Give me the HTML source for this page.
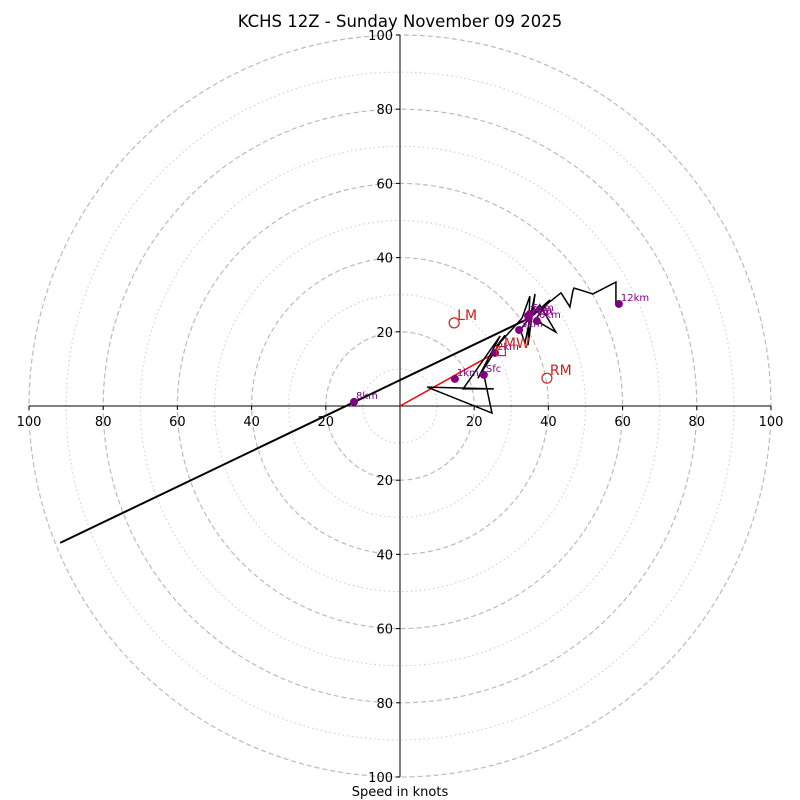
<!DOCTYPE html>
<html><head><meta charset="utf-8"><style>
html,body{margin:0;padding:0;background:#fff;}
svg{display:block;font-family:"DejaVu Sans","Liberation Sans",sans-serif;}
</style></head><body>
<svg id="chart" width="800" height="800" viewBox="0 0 800 800">
<text x="400" y="27" font-size="16.5" text-anchor="middle">KCHS 12Z - Sunday November 09 2025</text>
<text x="400" y="796" font-size="13" text-anchor="middle">Speed in knots</text>
<g id="rings"></g><g id="axes"></g><g id="series"></g><g id="marks"></g>
</svg>
<script>
const ringLevels=[10,20,30,40,50,60,70,80,90,100];
const tickLabels=[20,40,60,80,100];
// lower-level hodograph trace (u, v in knots)
const lowerU=[22.6,24.8,7.3,25.3,17.0,27.0,21.0,28.3,25.9,32.9,35.0,34.5,36.4,33.7,32.4,37.7,42.0,36.4,40.4,34.9];
const lowerV=[8.4,-1.9,5.1,4.6,4.6,18.9,7.5,19.1,15.9,23.7,29.6,16.4,30.2,17.0,20.5,27.2,19.9,23.2,28.6,23.7];
// upper-level trace to 12 km
const upperU=[34.9,43.4,45.8,46.6,46.9,52.0,58.2,58.2];
const upperV=[23.7,30.5,26.7,31.0,31.8,30.2,33.4,27.8];
// long upper segment
const longU=[34.9,-91.6];
const longV=[23.7,-36.9];
// height markers
const markerLabels=["Sfc","1km","2km","3km","4km","5km","6km","7km","8km","12km"];
const markerU=[22.6,14.8,25.6,32.1,34.7,35.0,36.9,34.5,-12.4,59.0];
const markerV=[8.4,7.3,14.3,20.5,23.7,24.8,22.9,24.3,1.1,27.5];
// storm motions (knots)
const stormLabels=["LM","RM","MW"];
const stormU=[14.6,39.6,27.2];
const stormV=[22.4,7.5,14.8];

const cx=400,cy=406,k=3.71;
const X=u=>cx+u*k, Y=v=>cy-v*k;
const NS="http://www.w3.org/2000/svg";
function mk(tag,parent,attrs){const e=document.createElementNS(NS,tag);for(const a in attrs)e.setAttribute(a,attrs[a]);document.getElementById(parent).appendChild(e);return e;}

ringLevels.forEach(r=>{
  const c=mk('circle','rings',{cx:cx,cy:cy,r:r*k,fill:'none',stroke:r%20===0?'#bbb':'#ccc','stroke-width':r%20===0?1.2:1,'stroke-dasharray':r%20===0?'5,3':'1.5,3'});
  
  
});
let ax=mk('line','axes',{x1:X(-100),y1:cy,x2:X(100),y2:cy,stroke:'#000','stroke-width':1});


ax=mk('line','axes',{x1:cx,y1:Y(100),x2:cx,y2:Y(-100),stroke:'#000','stroke-width':1});


tickLabels.forEach(t=>{
  [-1,1].forEach(s=>{
    mk('line','axes',{x1:X(s*t),y1:cy,x2:X(s*t),y2:cy+4,stroke:'#000'});
    const tx=mk('text','axes',{x:X(s*t),y:cy+20,'font-size':13,'text-anchor':'middle'});
    tx.textContent=t;
    
    
    mk('line','axes',{x1:cx-4,y1:Y(s*t),x2:cx,y2:Y(s*t),stroke:'#000'});
    const ty=mk('text','axes',{x:cx-7,y:Y(s*t)+5,'font-size':13,'text-anchor':'end'});
    ty.textContent=t;
    
    
  });
});
function poly(us,vs,name,color,w){
  const p=mk('polyline','series',{points:us.map((u,i)=>X(u)+','+Y(vs[i])).join(' '),fill:'none',stroke:color,'stroke-width':w,'stroke-linejoin':'miter'});
  
  
}
poly(longU,longV,'upper-long-segment','#000',2);
poly([0,markerU[2]],[0,markerV[2]],'storm-inflow-line','red',1.5);
poly(lowerU,lowerV,'hodograph-lower','#000',1.5);
poly(upperU,upperV,'hodograph-upper','#000',1.5);
markerLabels.forEach((l,i)=>{
  const c=mk('circle','marks',{cx:X(markerU[i]),cy:Y(markerV[i]),r:4,fill:'purple'});
  
  
  const t=mk('text','marks',{x:X(markerU[i])+2,y:Y(markerV[i])-3,'font-size':10,fill:'purple'});
  t.textContent=l;
  
  
});
stormLabels.forEach((l,i)=>{
  const x=X(stormU[i]),y=Y(stormV[i]);
  let m;
  if(l==='MW') m=mk('rect','marks',{x:x-4.5,y:y-4.5,width:9,height:9,fill:'none',stroke:'#c22','stroke-width':1.2});
  else m=mk('circle','marks',{cx:x,cy:y,r:5,fill:'none',stroke:'#c22','stroke-width':1.2});
  
  
  const t=mk('text','marks',{x:x+3,y:y-3,'font-size':14,fill:'#c22'});
  t.textContent=l;
  
  
});
</script>
</body></html>
